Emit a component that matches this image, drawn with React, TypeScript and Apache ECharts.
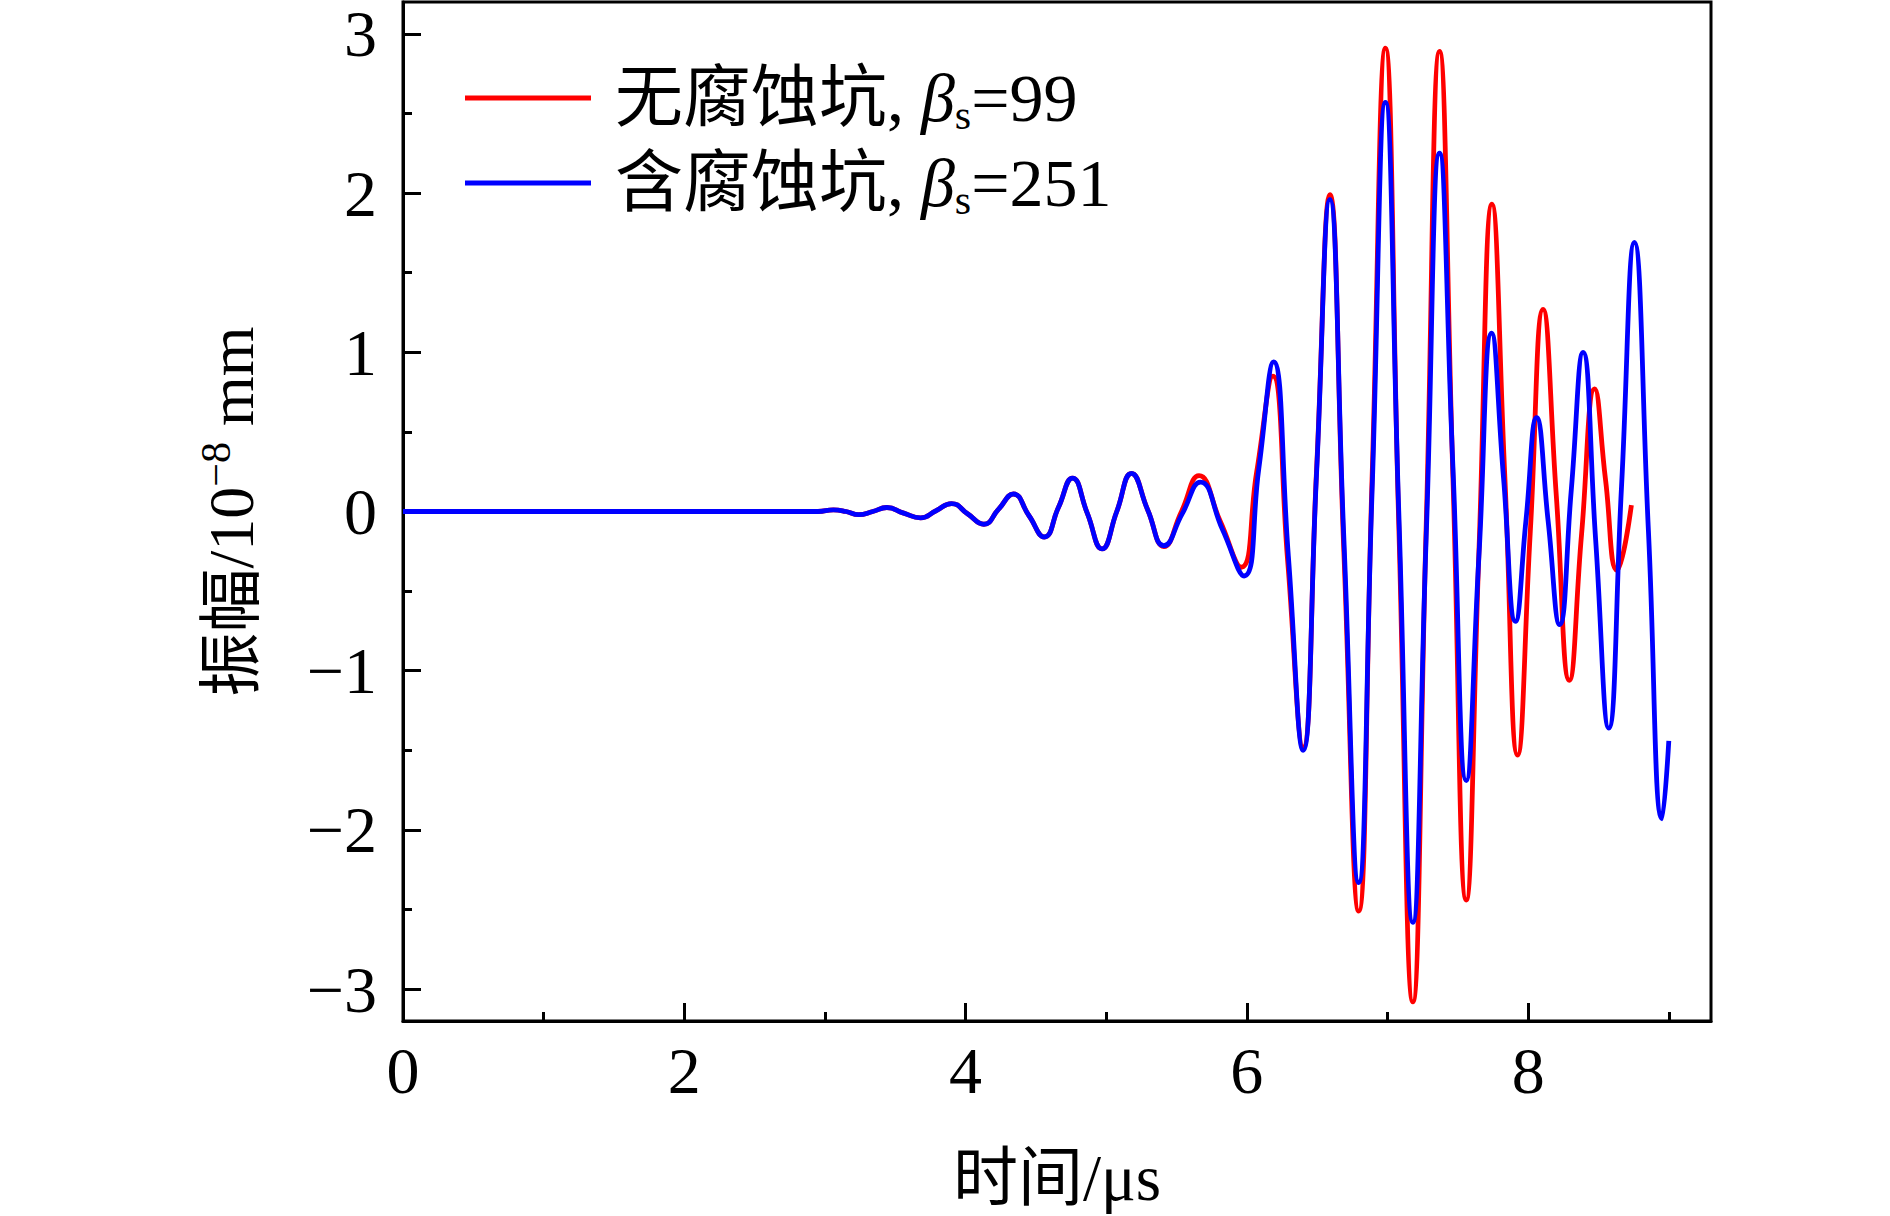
import React, { useEffect, useRef } from 'react';
import * as echarts from 'echarts';

const FONT = "'Liberation Serif', 'Times New Roman', 'Noto Sans CJK SC', serif";

// legend / series labels
const seriesPrefix = ['无腐蚀坑, ', '含腐蚀坑, '];
const seriesBeta = ['99', '251'];
const seriesNames = ['无腐蚀坑, βs=99', '含腐蚀坑, βs=251'];
const seriesColors = ['#ff0000', '#0000ff'];

// axis ticks
const xMajor = [0, 2, 4, 6, 8];
const xMinor = [1, 3, 5, 7, 9];
const yMajor = [-3, -2, -1, 0, 1, 2, 3];
const yMinor = [-2.5, -1.5, -0.5, 0.5, 1.5, 2.5];

// 无腐蚀坑 (red)
const redTime = [0, 2.95, 3.06, 3.15, 3.24, 3.34, 3.44, 3.56, 3.68, 3.79, 3.9, 4.015, 4.13, 4.235, 4.34, 4.45, 4.56, 4.66, 4.76, 4.865, 4.97, 5.075, 5.18, 5.295, 5.41, 5.535, 5.66, 5.81, 5.96, 6.07, 6.185, 6.29, 6.4, 6.495, 6.59, 6.69, 6.795, 6.89, 6.985, 7.08, 7.18, 7.275, 7.37, 7.465, 7.56, 7.65, 7.743, 7.835, 7.925, 8.015, 8.106, 8.2, 8.293, 8.38, 8.473, 8.55, 8.632, 8.734];
const redAmp = [0, 0, 0.01, 0, -0.02, 0, 0.025, -0.01, -0.04, 0.005, 0.05, -0.015, -0.08, 0.015, 0.11, -0.025, -0.16, 0.025, 0.21, -0.01, -0.235, 0, 0.24, 0.01, -0.22, 0, 0.225, -0.06, -0.35, 0.25, 0.85, -0.31, -1.48, 0.25, 1.99, -0.26, -2.51, 0.2, 2.91, -0.08, -3.08, -0.09, 2.89, 0.22, -2.44, -0.25, 1.93, 0.2, -1.53, -0.13, 1.27, 0.1, -1.06, -0.14, 0.77, 0.2, -0.37, 0.04];

// 含腐蚀坑 (blue)
const blueTime = [0, 2.95, 3.06, 3.15, 3.24, 3.34, 3.44, 3.56, 3.68, 3.79, 3.9, 4.015, 4.13, 4.235, 4.34, 4.45, 4.56, 4.66, 4.76, 4.865, 4.97, 5.075, 5.18, 5.295, 5.41, 5.54, 5.67, 5.825, 5.98, 6.085, 6.19, 6.295, 6.4, 6.495, 6.59, 6.69, 6.795, 6.89, 6.985, 7.08, 7.18, 7.275, 7.37, 7.465, 7.56, 7.65, 7.74, 7.825, 7.91, 7.985, 8.06, 8.142, 8.224, 8.307, 8.39, 8.48, 8.573, 8.664, 8.755, 8.855, 8.952, 9.0];
const blueAmp = [0, 0, 0.01, 0, -0.02, 0, 0.025, -0.01, -0.04, 0.005, 0.05, -0.015, -0.08, 0.015, 0.11, -0.025, -0.16, 0.025, 0.21, -0.01, -0.235, 0, 0.24, 0.01, -0.215, -0.015, 0.185, -0.11, -0.405, 0.27, 0.94, -0.28, -1.5, 0.23, 1.96, -0.18, -2.33, 0.12, 2.57, 0, -2.58, -0.16, 2.25, 0.28, -1.69, -0.28, 1.12, 0.21, -0.69, -0.05, 0.59, -0.06, -0.71, 0.14, 1.0, -0.18, -1.36, 0.16, 1.69, -0.12, -1.93, -1.44];

const minus = (v: number) => (v < 0 ? '\u2212' + Math.abs(v) : String(v));

export default function App() {
  const ref = useRef<HTMLDivElement>(null);

  useEffect(() => {
    if (!ref.current) return;
    const chart = echarts.init(ref.current, undefined, { renderer: 'svg' });

    const redData = redTime.map((t, i) => [t, redAmp[i]]);
    const blueData = blueTime.map((t, i) => [t, blueAmp[i]]);

    const tickStyle = { color: '#000', width: 3 };

    const option: any = {
      animation: false,
      backgroundColor: '#ffffff',
      grid: {
        left: 403,
        right: 179,
        top: 2,
        bottom: 195,
        show: true,
        borderColor: '#000',
        borderWidth: 3,
        backgroundColor: 'transparent',
      },
      legend: {
        show: true,
        orient: 'vertical',
        left: 460,
        top: 55,
        padding: 5,
        itemGap: 9,
        itemWidth: 126,
        itemHeight: 5,
        icon: 'rect',
        selectedMode: false,
        data: seriesNames,
        formatter: (name: string) => {
          const i = seriesNames.indexOf(name);
          return `{h|${seriesPrefix[i]}}{b|β}{s|s}{a|=${seriesBeta[i]}}`;
        },
        textStyle: {
          fontFamily: FONT,
          fontSize: 68,
          lineHeight: 76,
          color: '#000',
          rich: {
            h: { fontFamily: FONT, fontSize: 68, lineHeight: 76, color: '#000', padding: [0, 0, 0, 19] },
            b: { fontFamily: FONT, fontSize: 68, lineHeight: 76, color: '#000', fontStyle: 'italic' },
            s: { fontFamily: FONT, fontSize: 42, lineHeight: 38, color: '#000', verticalAlign: 'bottom' },
            a: { fontFamily: FONT, fontSize: 68, lineHeight: 76, color: '#000' },
          },
        },
      },
      xAxis: [
        {
          type: 'value',
          gridIndex: 0,
          position: 'bottom',
          min: 0,
          max: 9.3,
          name: '时间/μs',
          nameLocation: 'middle',
          nameGap: 124,
          nameTextStyle: { fontFamily: FONT, fontSize: 65, color: '#000' },
          axisLine: { show: true, onZero: false, lineStyle: { color: '#000', width: 3 } },
          axisTick: { show: true, inside: true, length: 18, lineStyle: tickStyle, customValues: xMajor },
          axisLabel: {
            show: true,
            margin: 16,
            fontFamily: FONT,
            fontSize: 66,
            color: '#000',
            customValues: xMajor,
            formatter: (v: number) => minus(v),
          },
          splitLine: { show: false },
          minorTick: { show: false },
        },
        {
          type: 'value',
          gridIndex: 0,
          position: 'bottom',
          min: 0,
          max: 9.3,
          axisLine: { show: false, onZero: false },
          axisTick: { show: true, inside: true, length: 9, lineStyle: tickStyle, customValues: xMinor },
          axisLabel: { show: false },
          splitLine: { show: false },
        },
      ],
      yAxis: [
        {
          type: 'value',
          gridIndex: 0,
          position: 'left',
          min: -3.2,
          max: 3.2,
          name: '{a|振幅/10}{sup|\u22128}{a| mm}',
          nameLocation: 'middle',
          nameRotate: 90,
          nameGap: 136,
          nameTextStyle: {
            fontFamily: FONT,
            fontSize: 64,
            color: '#000',
            rich: {
              a: { fontFamily: FONT, fontSize: 64, lineHeight: 72, color: '#000' },
              sup: { fontFamily: FONT, fontSize: 42, lineHeight: 36, color: '#000', verticalAlign: 'top' },
            },
          },
          axisLine: { show: true, onZero: false, lineStyle: { color: '#000', width: 3 } },
          axisTick: { show: true, inside: true, length: 18, lineStyle: tickStyle, customValues: yMajor },
          axisLabel: {
            show: true,
            margin: 26,
            fontFamily: FONT,
            fontSize: 66,
            lineHeight: 50,
            color: '#000',
            customValues: yMajor,
            formatter: (v: number) => minus(v),
          },
          splitLine: { show: false },
          minorTick: { show: false },
        },
        {
          type: 'value',
          gridIndex: 0,
          position: 'left',
          min: -3.2,
          max: 3.2,
          axisLine: { show: false, onZero: false },
          axisTick: { show: true, inside: true, length: 9, lineStyle: tickStyle, customValues: yMinor },
          axisLabel: { show: false },
          splitLine: { show: false },
        },
      ],
      series: [
        {
          type: 'line',
          name: seriesNames[0],
          xAxisIndex: 0,
          yAxisIndex: 0,
          data: redData,
          symbol: 'none',
          showSymbol: false,
          smooth: 0.5,
          lineStyle: { color: seriesColors[0], width: 4.8 },
          itemStyle: { color: seriesColors[0] },
        },
        {
          type: 'line',
          name: seriesNames[1],
          xAxisIndex: 0,
          yAxisIndex: 0,
          data: blueData,
          symbol: 'none',
          showSymbol: false,
          smooth: 0.5,
          lineStyle: { color: seriesColors[1], width: 4.8 },
          itemStyle: { color: seriesColors[1] },
        },
      ],
    };

    chart.setOption(option);
    return () => {
      chart.dispose();
    };
  }, []);

  return (
    <div
      ref={ref}
      style={{ position: 'fixed', left: 0, top: 0, width: 1890, height: 1216, background: '#fff' }}
    />
  );
}
